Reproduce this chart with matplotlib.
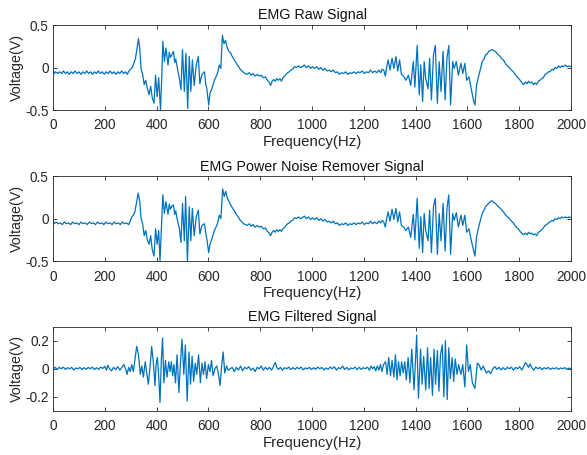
import matplotlib
matplotlib.use("Agg")
import matplotlib.pyplot as plt
from matplotlib.ticker import FuncFormatter

plt.rcParams['font.family'] = ['Liberation Sans', 'DejaVu Sans']
plt.rcParams['axes.unicode_minus'] = False

# (frequency Hz, voltage V)
raw_pts = [
    (0, -0.02), (4, -0.07), (10, -0.05), (18, -0.07), (25, -0.05), (33, -0.07), (40, -0.04), (48, -0.07),
    (55, -0.05), (63, -0.08), (70, -0.05), (78, -0.07), (85, -0.04), (93, -0.07), (100, -0.05), (108, -0.08),
    (115, -0.05), (123, -0.07), (130, -0.04), (138, -0.07), (145, -0.05), (153, -0.08), (160, -0.05), (168, -0.07),
    (175, -0.04), (183, -0.07), (190, -0.05), (198, -0.08), (205, -0.05), (213, -0.07), (220, -0.04), (228, -0.07),
    (235, -0.05), (243, -0.08), (250, -0.05), (258, -0.07), (265, -0.04), (273, -0.07), (280, -0.05), (287, -0.08),
    (293, -0.04), (300, -0.02), (306, 0.00), (312, 0.05), (318, 0.10), (324, 0.22), (330, 0.34), (335, 0.22),
    (340, -0.01), (346, -0.08), (352, -0.20), (358, -0.15), (364, -0.24), (371, -0.32), (377, -0.22), (383, -0.35),
    (390, -0.42), (396, -0.09), (402, -0.34), (408, -0.12), (415, -0.50), (420, -0.10), (424, 0.31), (430, 0.07),
    (436, 0.23), (444, 0.03), (449, 0.18), (453, 0.12), (459, 0.15), (465, 0.19), (470, 0.06), (474, 0.10),
    (481, -0.02), (488, -0.13), (494, -0.26), (500, 0.21), (507, -0.28), (513, 0.17), (520, -0.48), (526, 0.13),
    (532, -0.28), (538, 0.09), (545, -0.21), (553, 0.03), (561, 0.13), (567, -0.19), (575, -0.08), (585, -0.05),
    (590, -0.20), (594, -0.25), (601, -0.44), (606, -0.30), (612, -0.26), (623, -0.15), (635, -0.07), (642, 0.03),
    (648, -0.01), (654, 0.38), (660, 0.28), (666, 0.32), (672, 0.24), (679, 0.19), (686, 0.17), (692, 0.13),
    (698, 0.10), (704, 0.07), (710, 0.04), (717, 0.01), (723, -0.02), (730, -0.04), (736, -0.06), (742, -0.07),
    (750, -0.08), (758, -0.06), (765, -0.09), (772, -0.07), (780, -0.10), (788, -0.08), (796, -0.10), (804, -0.09),
    (812, -0.12), (820, -0.11), (828, -0.15), (834, -0.17), (840, -0.21), (846, -0.16), (852, -0.14), (858, -0.16),
    (864, -0.13), (870, -0.15), (876, -0.13), (882, -0.16), (888, -0.12), (894, -0.10), (900, -0.08), (906, -0.06),
    (912, -0.05), (918, -0.03), (925, -0.02), (932, 0.01), (940, 0.00), (948, 0.02), (955, 0.00), (962, 0.01),
    (970, 0.03), (978, 0.00), (986, 0.02), (994, -0.01), (1002, 0.01), (1010, -0.01), (1018, 0.01), (1026, -0.02),
    (1034, 0.00), (1042, -0.03), (1050, -0.01), (1058, -0.04), (1066, -0.03), (1074, -0.05), (1082, -0.03), (1090, -0.06),
    (1098, -0.05), (1106, -0.08), (1114, -0.06), (1122, -0.07), (1130, -0.05), (1138, -0.08), (1146, -0.06), (1154, -0.07),
    (1162, -0.05), (1170, -0.07), (1178, -0.05), (1186, -0.06), (1194, -0.04), (1202, -0.07), (1210, -0.05), (1218, -0.06),
    (1226, -0.03), (1234, -0.06), (1242, -0.04), (1250, -0.06), (1258, -0.03), (1265, -0.06), (1271, -0.02), (1277, -0.03),
    (1283, -0.10), (1288, 0.00), (1294, 0.09), (1301, -0.03), (1309, 0.11), (1316, -0.01), (1324, 0.13), (1331, -0.04),
    (1338, 0.09), (1345, -0.08), (1354, -0.10), (1362, -0.15), (1372, -0.09), (1381, -0.21), (1391, 0.07), (1397, -0.23),
    (1406, 0.26), (1414, -0.32), (1420, 0.03), (1427, -0.40), (1433, 0.07), (1439, -0.13), (1448, -0.25), (1454, 0.11),
    (1461, -0.38), (1469, 0.15), (1476, 0.26), (1484, -0.42), (1491, 0.07), (1498, -0.28), (1506, 0.19), (1514, -0.38),
    (1521, 0.11), (1528, 0.26), (1535, -0.44), (1543, 0.07), (1549, -0.01), (1557, 0.07), (1565, -0.09), (1575, 0.05),
    (1582, -0.07), (1590, 0.05), (1597, -0.15), (1606, -0.11), (1615, -0.25), (1623, -0.38), (1629, -0.44), (1635, -0.21),
    (1644, -0.09), (1650, -0.02), (1657, 0.07), (1664, 0.10), (1670, 0.15), (1676, 0.16), (1682, 0.19), (1688, 0.20),
    (1695, 0.21), (1701, 0.20), (1708, 0.19), (1716, 0.16), (1727, 0.13), (1733, 0.10), (1739, 0.09), (1748, 0.04),
    (1758, 0.01), (1767, -0.02), (1777, -0.05), (1786, -0.09), (1796, -0.12), (1806, -0.16), (1816, -0.20), (1824, -0.17),
    (1830, -0.19), (1836, -0.16), (1842, -0.18), (1848, -0.17), (1855, -0.20), (1861, -0.18), (1867, -0.20), (1874, -0.16),
    (1880, -0.15), (1887, -0.13), (1893, -0.12), (1900, -0.08), (1906, -0.07), (1912, -0.05), (1919, -0.05), (1926, -0.02),
    (1932, -0.03), (1938, 0.00), (1945, -0.01), (1952, 0.02), (1958, 0.00), (1964, 0.02), (1970, 0.01), (1978, 0.03),
    (1985, 0.01), (1992, 0.02), (2000, 0.01),
]

notch_pts = [
    (0, -0.03), (5, -0.06), (12, -0.04), (20, -0.06), (28, -0.05), (36, -0.07), (44, -0.04), (52, -0.06),
    (60, -0.05), (68, -0.07), (76, -0.04), (84, -0.06), (92, -0.05), (100, -0.07), (108, -0.04), (116, -0.06),
    (124, -0.05), (132, -0.07), (140, -0.04), (148, -0.06), (156, -0.05), (164, -0.07), (172, -0.04), (180, -0.06),
    (188, -0.05), (196, -0.07), (204, -0.04), (212, -0.06), (220, -0.05), (228, -0.07), (236, -0.04), (244, -0.06),
    (252, -0.05), (260, -0.07), (268, -0.04), (276, -0.06), (284, -0.05), (292, -0.07), (298, -0.03), (304, 0.02),
    (310, 0.04), (316, 0.08), (322, 0.18), (329, 0.30), (335, 0.20), (340, 0.00), (346, -0.06), (352, -0.20),
    (358, -0.14), (364, -0.25), (371, -0.30), (377, -0.20), (383, -0.36), (390, -0.44), (396, -0.12), (402, -0.30),
    (408, -0.14), (413, -0.50), (419, -0.08), (424, 0.28), (430, 0.06), (436, 0.20), (444, 0.05), (449, 0.17),
    (453, 0.11), (459, 0.15), (465, 0.16), (470, 0.05), (474, 0.09), (481, -0.03), (488, -0.12), (494, -0.28),
    (500, 0.18), (507, -0.26), (512, 0.26), (519, -0.50), (526, 0.14), (532, -0.26), (538, 0.12), (545, -0.20),
    (553, 0.02), (561, 0.10), (567, -0.18), (575, -0.08), (585, -0.06), (590, -0.18), (594, -0.24), (601, -0.40),
    (606, -0.30), (612, -0.25), (623, -0.14), (635, -0.06), (642, 0.04), (648, 0.00), (655, 0.35), (661, 0.26),
    (667, 0.32), (673, 0.24), (680, 0.20), (686, 0.16), (692, 0.13), (698, 0.10), (704, 0.07), (710, 0.04),
    (717, 0.01), (723, -0.02), (730, -0.04), (736, -0.06), (742, -0.07), (750, -0.08), (758, -0.06), (765, -0.09),
    (772, -0.07), (780, -0.10), (788, -0.08), (796, -0.10), (804, -0.09), (812, -0.12), (820, -0.11), (828, -0.15),
    (834, -0.17), (840, -0.20), (846, -0.16), (852, -0.14), (858, -0.16), (864, -0.13), (870, -0.15), (876, -0.13),
    (882, -0.15), (888, -0.12), (894, -0.10), (900, -0.08), (906, -0.06), (912, -0.05), (918, -0.03), (925, -0.02),
    (932, 0.01), (940, 0.00), (948, 0.02), (955, 0.00), (962, 0.01), (970, 0.03), (978, 0.00), (986, 0.02),
    (994, -0.01), (1002, 0.01), (1010, -0.01), (1018, 0.01), (1026, -0.02), (1034, 0.00), (1042, -0.03), (1050, -0.01),
    (1058, -0.04), (1066, -0.03), (1074, -0.05), (1082, -0.03), (1090, -0.06), (1098, -0.05), (1106, -0.08), (1114, -0.06),
    (1122, -0.07), (1130, -0.05), (1138, -0.08), (1146, -0.06), (1154, -0.07), (1162, -0.05), (1170, -0.07), (1178, -0.05),
    (1186, -0.06), (1194, -0.04), (1202, -0.07), (1210, -0.05), (1218, -0.06), (1226, -0.03), (1234, -0.06), (1242, -0.04),
    (1250, -0.06), (1258, -0.03), (1265, -0.05), (1271, -0.02), (1277, -0.04), (1283, -0.10), (1288, 0.00), (1294, 0.08),
    (1301, -0.03), (1309, 0.11), (1316, -0.01), (1324, 0.12), (1331, -0.04), (1338, 0.08), (1345, -0.08), (1354, -0.10),
    (1362, -0.14), (1372, -0.10), (1381, -0.22), (1391, 0.05), (1397, -0.25), (1406, 0.24), (1414, -0.35), (1420, 0.02),
    (1427, -0.40), (1433, 0.06), (1439, -0.14), (1448, -0.26), (1454, 0.10), (1461, -0.40), (1469, 0.14), (1476, 0.24),
    (1484, -0.42), (1491, 0.06), (1498, -0.26), (1506, 0.18), (1514, -0.38), (1521, 0.12), (1528, 0.28), (1535, -0.42),
    (1543, 0.06), (1549, -0.02), (1557, 0.07), (1565, -0.10), (1575, 0.04), (1582, -0.08), (1590, 0.04), (1597, -0.16),
    (1606, -0.12), (1615, -0.26), (1623, -0.36), (1629, -0.44), (1635, -0.22), (1644, -0.09), (1650, -0.02), (1657, 0.06),
    (1664, 0.10), (1670, 0.14), (1676, 0.16), (1682, 0.18), (1688, 0.20), (1695, 0.21), (1701, 0.19), (1708, 0.18),
    (1716, 0.15), (1727, 0.12), (1733, 0.10), (1739, 0.08), (1748, 0.04), (1758, 0.01), (1767, -0.02), (1777, -0.05),
    (1786, -0.09), (1796, -0.12), (1806, -0.16), (1816, -0.19), (1824, -0.17), (1830, -0.19), (1836, -0.16), (1842, -0.18),
    (1848, -0.17), (1855, -0.19), (1861, -0.18), (1867, -0.20), (1874, -0.16), (1880, -0.15), (1887, -0.13), (1893, -0.11),
    (1900, -0.08), (1906, -0.07), (1912, -0.05), (1919, -0.04), (1926, -0.02), (1932, -0.03), (1938, 0.00), (1945, -0.01),
    (1952, 0.01), (1958, 0.00), (1964, 0.02), (1970, 0.01), (1978, 0.02), (1985, 0.01), (1992, 0.02), (2000, 0.01),
]

filt_pts = [
    (0, 0.000), (8, 0.010), (16, -0.005), (24, 0.010), (32, 0.000), (40, 0.012), (48, -0.005), (56, 0.008),
    (64, 0.000), (72, 0.010), (80, -0.008), (88, 0.006), (96, 0.000), (104, 0.010), (112, -0.006), (120, 0.008),
    (128, -0.004), (136, 0.010), (144, 0.000), (152, 0.012), (160, -0.006), (168, 0.008), (176, -0.005), (184, 0.012),
    (192, 0.002), (200, 0.018), (206, -0.010), (212, 0.025), (218, 0.000), (226, -0.015), (234, 0.010), (242, -0.005),
    (250, 0.015), (258, -0.010), (266, 0.010), (274, 0.030), (280, 0.000), (286, -0.040), (292, 0.010), (298, -0.020),
    (304, 0.030), (310, -0.020), (316, 0.060), (323, 0.160), (330, 0.100), (337, -0.040), (343, 0.020), (349, -0.060),
    (356, 0.050), (362, -0.030), (368, -0.110), (375, 0.020), (381, 0.160), (387, 0.050), (394, -0.120), (398, 0.030),
    (403, 0.080), (408, -0.050), (413, -0.240), (418, 0.050), (423, 0.220), (428, -0.100), (434, 0.060), (440, -0.060),
    (447, 0.050), (452, -0.020), (457, 0.050), (462, -0.050), (467, 0.030), (473, -0.100), (479, 0.100), (486, -0.170),
    (492, 0.040), (498, 0.210), (505, -0.040), (511, 0.170), (518, -0.230), (525, 0.120), (531, -0.110), (537, 0.090),
    (543, -0.090), (549, 0.040), (555, -0.040), (562, 0.100), (569, -0.100), (575, 0.040), (581, -0.040), (587, 0.050),
    (593, -0.070), (600, 0.030), (606, -0.020), (612, 0.060), (618, -0.050), (625, 0.000), (632, 0.020), (638, -0.030),
    (645, -0.120), (651, 0.020), (657, 0.120), (663, -0.030), (670, 0.020), (676, -0.010), (684, 0.000), (692, 0.010),
    (700, -0.020), (708, 0.010), (716, -0.010), (724, 0.020), (732, -0.015), (740, 0.010), (748, 0.000), (756, 0.015),
    (764, -0.010), (772, 0.005), (780, -0.020), (788, 0.010), (796, 0.000), (804, 0.020), (812, -0.010), (820, 0.010),
    (828, -0.005), (836, 0.010), (844, -0.010), (852, 0.020), (858, 0.045), (864, 0.010), (870, -0.005), (878, 0.010),
    (886, -0.010), (894, 0.008), (902, 0.000), (910, 0.012), (918, -0.006), (926, 0.008), (934, -0.004), (942, 0.010),
    (950, 0.000), (958, 0.012), (966, -0.008), (974, 0.006), (982, 0.000), (990, 0.010), (998, -0.006), (1006, 0.008),
    (1014, -0.004), (1022, 0.012), (1030, 0.000), (1038, 0.010), (1046, -0.008), (1054, 0.006), (1062, -0.004), (1070, 0.012),
    (1078, 0.000), (1086, 0.015), (1094, -0.010), (1102, 0.008), (1110, 0.000), (1118, 0.020), (1126, -0.005), (1134, 0.010),
    (1142, -0.008), (1150, 0.006), (1158, 0.000), (1166, 0.012), (1174, -0.006), (1182, 0.010), (1190, -0.004), (1198, 0.008),
    (1206, 0.000), (1214, 0.012), (1222, -0.010), (1228, 0.020), (1234, 0.000), (1240, 0.015), (1246, -0.015), (1252, 0.020),
    (1258, -0.010), (1264, 0.030), (1270, -0.020), (1276, 0.030), (1284, 0.050), (1290, -0.040), (1296, 0.080), (1303, -0.050),
    (1309, 0.060), (1316, -0.060), (1322, 0.100), (1328, -0.080), (1334, 0.050), (1340, -0.050), (1346, 0.050), (1352, -0.030),
    (1358, 0.050), (1364, -0.080), (1371, 0.080), (1378, -0.100), (1385, 0.140), (1394, -0.150), (1404, 0.240), (1411, -0.210),
    (1419, 0.140), (1425, -0.110), (1431, 0.090), (1439, -0.150), (1446, 0.150), (1452, -0.140), (1458, 0.080), (1465, -0.190),
    (1471, 0.140), (1477, -0.110), (1484, 0.130), (1490, -0.160), (1496, 0.100), (1503, 0.170), (1509, -0.200), (1515, 0.200),
    (1522, -0.220), (1528, 0.150), (1534, -0.070), (1541, 0.080), (1547, -0.090), (1553, 0.070), (1560, -0.040), (1566, 0.030),
    (1575, -0.040), (1582, 0.030), (1590, -0.130), (1597, 0.170), (1604, -0.020), (1611, 0.030), (1619, -0.100), (1629, -0.140),
    (1638, 0.040), (1645, 0.030), (1653, -0.010), (1661, 0.020), (1673, -0.030), (1682, -0.015), (1690, -0.035), (1698, 0.000),
    (1706, 0.015), (1714, -0.005), (1722, 0.010), (1730, -0.008), (1738, 0.008), (1746, -0.006), (1754, 0.010), (1762, 0.000),
    (1770, 0.012), (1778, -0.010), (1786, 0.010), (1794, 0.000), (1802, 0.015), (1810, -0.010), (1818, 0.020), (1824, 0.045),
    (1830, 0.030), (1836, 0.010), (1842, 0.035), (1848, 0.010), (1856, -0.010), (1864, 0.012), (1872, 0.000), (1880, 0.010),
    (1888, -0.006), (1896, 0.008), (1904, 0.000), (1912, 0.010), (1920, -0.005), (1928, 0.006), (1936, 0.000), (1944, 0.008),
    (1952, -0.004), (1960, 0.006), (1968, 0.000), (1976, 0.008), (1984, -0.004), (1992, 0.005), (2000, 0.000),
]

panels = [
    ("EMG Raw Signal", raw_pts, (-0.5, 0.5), [-0.5, 0, 0.5]),
    ("EMG Power Noise Remover Signal", notch_pts, (-0.5, 0.5), [-0.5, 0, 0.5]),
    ("EMG Filtered Signal", filt_pts, (-0.3, 0.3), [-0.2, 0, 0.2]),
]

line_color = "#0072BD"
text_color = "#262626"
# axes rectangles in figure fraction (left, bottom, width, height)
boxes = [
    (0.0903, 0.758, 0.8825, 0.187),
    (0.0903, 0.426, 0.8825, 0.187),
    (0.0903, 0.097, 0.8825, 0.185),
]

fig = plt.figure(figsize=(5.87, 4.55), dpi=100)


def fmt(v, pos):
    if abs(v) < 1e-9:
        return "0"
    return f"{v:g}"


for (title, pts, ylim, yticks), box in zip(panels, boxes):
    ax = fig.add_axes(box)
    fs, vs = zip(*pts)
    ax.plot(fs, vs, color=line_color, lw=0.9)
    ax.set_xlim(0, 2000)
    ax.set_ylim(*ylim)
    ax.set_xticks(range(0, 2001, 200))
    ax.set_yticks(yticks)
    ax.yaxis.set_major_formatter(FuncFormatter(fmt))
    ax.tick_params(direction="in", top=True, right=True, length=3, width=0.6,
                   labelsize=9.8, colors=text_color)
    ax.tick_params(axis="x", pad=6)
    ax.tick_params(axis="y", pad=3)
    for sp in ax.spines.values():
        sp.set_color(text_color)
        sp.set_linewidth(0.6)
    ax.set_title(title, fontsize=10.3, color="#111111", pad=4)
    ax.set_xlabel("Frequency(Hz)", fontsize=10.8, color=text_color, labelpad=2)
    ax.set_ylabel("Voltage(V)", fontsize=10.3, color=text_color, labelpad=1)

fig.savefig("out.png", dpi=100)
